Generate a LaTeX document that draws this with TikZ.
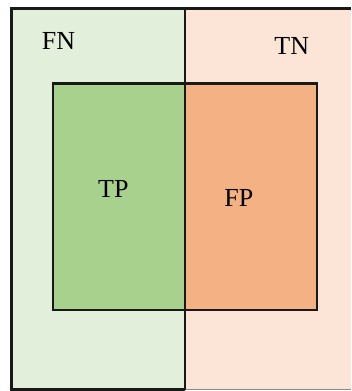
\documentclass[tikz,border=0pt]{standalone}
\usepackage{fontspec}
\setmainfont{Liberation Serif}
\definecolor{lgreen}{HTML}{E2EFDA}
\definecolor{lpink}{HTML}{FCE4D6}
\definecolor{mgreen}{HTML}{A9D18E}
\definecolor{morange}{HTML}{F4B183}
\begin{document}
\begin{tikzpicture}[x=1pt,y=-1pt,
  lbl/.style={inner sep=0pt,font=\fontsize{26}{30}\selectfont},
  thick line/.style={line width=2.3pt,draw=black!90}]
\useasboundingbox (0,0) rectangle (351,391);
% outer regions
\fill[lgreen] (11.5,8.5) rectangle (184.7,389.5);
\fill[lpink] (184.7,8.5) rectangle (351,389);
\draw[line width=0.8pt,draw=black!45] (184.7,389) -- (351,389);
\draw[thick line] (351,8.5) -- (11.5,8.5) -- (11.5,389.5) -- (184.7,389.5);
% inner regions
\fill[mgreen] (52.8,83.5) rectangle (184.7,309.7);
\fill[morange] (184.7,83.5) rectangle (317,309.7);
\draw[thick line] (52.8,83.5) rectangle (317,309.7);
\draw[thick line] (184.7,8.5) -- (184.7,389.5);
% labels
\node[lbl] (fn) at (58.5,41) {FN};
\node[lbl] (tn) at (291.7,46) {TN};
\node[lbl] (tp) at (113.3,189) {TP};
\node[lbl] (fp) at (238.8,198) {FP};
\end{tikzpicture}
\end{document}
